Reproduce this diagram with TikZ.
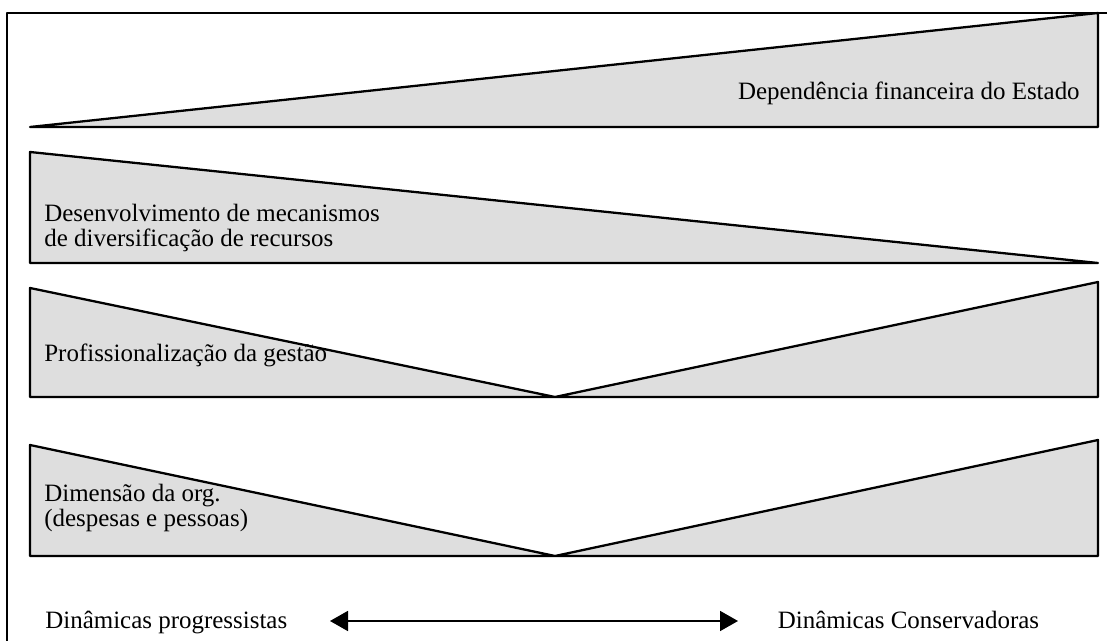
\documentclass[tikz,border=0pt]{standalone}
\usepackage{fontspec}
\setmainfont{Liberation Serif}
\usepackage{tikz}
\usetikzlibrary{arrows.meta}

\begin{document}
\begin{tikzpicture}[line join=round,
  wedge/.style={draw,fill=black!13,line width=1.3pt},
  lbl/.style={font=\fontsize{14.2}{17}\selectfont,inner sep=0pt}]
  \useasboundingbox (0,0) rectangle (22.140,12.820);
  % frame
  \coordinate (FTL) at (0.140,12.560);
  \coordinate (FTR) at (22.140,12.560);
  \coordinate (FBL) at (0.140,0.000);
  \draw[line width=1.1pt] (FTR) -- (FTL) -- (FBL);
  % wedge 1
  \coordinate (W1L) at (0.600,10.280);
  \coordinate (W1T) at (21.960,12.560);
  \coordinate (W1B) at (21.960,10.280);
  \draw[wedge] (W1L) -- (W1T) -- (W1B) -- cycle;
  \node[lbl,anchor=base east] (dep) at (21.600,10.820) {Dependência financeira do Estado};
  % wedge 2
  \coordinate (W2T) at (0.600,9.780);
  \coordinate (W2B) at (0.600,7.560);
  \coordinate (W2R) at (21.960,7.560);
  \draw[wedge] (W2T) -- (W2R) -- (W2B) -- cycle;
  \node[lbl,anchor=base west] (desA) at (0.880,8.380) {Desenvolvimento de mecanismos};
  \node[lbl,anchor=base west] (desB) at (0.880,7.880) {de diversificação de recursos};
  % wedge 3
  \coordinate (W3L) at (0.600,7.060);
  \coordinate (W3V) at (11.100,4.880);
  \coordinate (W3R) at (21.960,7.180);
  \draw[wedge] (W3L) -- (W3V) -- (W3R) -- (21.960,4.880) -- (0.600,4.880) -- cycle;
  \node[lbl,anchor=base west] (prof) at (0.880,5.580) {Profissionalização da gestão};
  % wedge 4
  \coordinate (W4L) at (0.600,3.920);
  \coordinate (W4V) at (11.100,1.700);
  \coordinate (W4R) at (21.960,4.020);
  \draw[wedge] (W4L) -- (W4V) -- (W4R) -- (21.960,1.700) -- (0.600,1.700) -- cycle;
  \node[lbl,anchor=base west] (dimA) at (0.880,2.780) {Dimensão da org.};
  \node[lbl,anchor=base west] (dimB) at (0.880,2.280) {(despesas e pessoas)};
  % bottom axis
  \node[lbl,anchor=base west] (prog) at (0.900,0.250) {Dinâmicas progressistas};
  \node[lbl,anchor=base west] (cons) at (15.550,0.250) {Dinâmicas Conservadoras};
  \coordinate (ArrL) at (6.600,0.400);
  \coordinate (ArrR) at (14.760,0.400);
  \draw[{Triangle[length=0.36cm,width=0.40cm]}-{Triangle[length=0.36cm,width=0.40cm]},line width=1pt] (ArrL) -- (ArrR);
\end{tikzpicture}
\end{document}
